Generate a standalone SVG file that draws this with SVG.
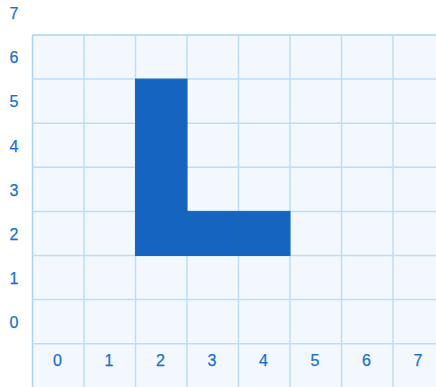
<svg xmlns="http://www.w3.org/2000/svg" width="436" height="387" viewBox="0 0 436 387">
  <style>
    .grid line { stroke: #bbdefb; stroke-width: 1.5; }
    .lbl { font-family: "Liberation Sans", Arial, sans-serif; fill: #1a6fd0; text-anchor: middle; font-size: 16px; stroke: #1a6fd0; stroke-width: 0.25; }
    .cell { fill: #1565c0; stroke: #1a66bb; stroke-width: 1; }
  </style>
  <rect x="0" y="0" width="436" height="387" fill="#ffffff"/>
  <rect x="32.5" y="35" width="404" height="352" fill="#f3f8fe"/>
  <g id="grid" class="grid">
    <line x1="32.5" y1="35" x2="32.5" y2="387" style="stroke:#a9d2f7"/>
    <line x1="84" y1="35" x2="84" y2="387"/>
    <line x1="135.5" y1="35" x2="135.5" y2="387"/>
    <line x1="187" y1="35" x2="187" y2="387"/>
    <line x1="238.5" y1="35" x2="238.5" y2="387"/>
    <line x1="290" y1="35" x2="290" y2="387"/>
    <line x1="341.5" y1="35" x2="341.5" y2="387"/>
    <line x1="393" y1="35" x2="393" y2="387"/>
    <line x1="32.5" y1="35" x2="436" y2="35" style="stroke:#a9d2f7"/>
    <line x1="32.5" y1="79.1" x2="436" y2="79.1"/>
    <line x1="32.5" y1="123.2" x2="436" y2="123.2"/>
    <line x1="32.5" y1="167.3" x2="436" y2="167.3"/>
    <line x1="32.5" y1="211.4" x2="436" y2="211.4"/>
    <line x1="32.5" y1="255.5" x2="436" y2="255.5"/>
    <line x1="32.5" y1="299.6" x2="436" y2="299.6"/>
    <line x1="32.5" y1="343.7" x2="436" y2="343.7"/>
  </g>
  <g id="L-shape">
    <g id="cell-2-5"><rect class="cell" x="135.5" y="79.1" width="51.5" height="44.1"/></g>
    <g id="cell-2-4"><rect class="cell" x="135.5" y="123.2" width="51.5" height="44.1"/></g>
    <g id="cell-2-3"><rect class="cell" x="135.5" y="167.3" width="51.5" height="44.1"/></g>
    <g id="cell-2-2"><rect class="cell" x="135.5" y="211.4" width="51.5" height="44.1"/></g>
    <g id="cell-3-2"><rect class="cell" x="187" y="211.4" width="51.5" height="44.1"/></g>
    <g id="cell-4-2"><rect class="cell" x="238.5" y="211.4" width="51.5" height="44.1"/></g>
  </g>
  <g id="y-labels">
    <text class="lbl" x="14" y="19.3">7</text>
    <text class="lbl" x="14" y="63.3">6</text>
    <text class="lbl" x="14" y="107.4">5</text>
    <text class="lbl" x="14" y="151.5">4</text>
    <text class="lbl" x="14" y="195.6">3</text>
    <text class="lbl" x="14" y="239.7">2</text>
    <text class="lbl" x="14" y="283.8">1</text>
    <text class="lbl" x="14" y="327.9">0</text>
  </g>
  <g id="x-labels">
    <text class="lbl" x="57.5" y="366">0</text>
    <text class="lbl" x="109" y="366">1</text>
    <text class="lbl" x="160.5" y="366">2</text>
    <text class="lbl" x="212" y="366">3</text>
    <text class="lbl" x="263.5" y="366">4</text>
    <text class="lbl" x="315" y="366">5</text>
    <text class="lbl" x="366.5" y="366">6</text>
    <text class="lbl" x="418" y="366">7</text>
  </g>
</svg>
